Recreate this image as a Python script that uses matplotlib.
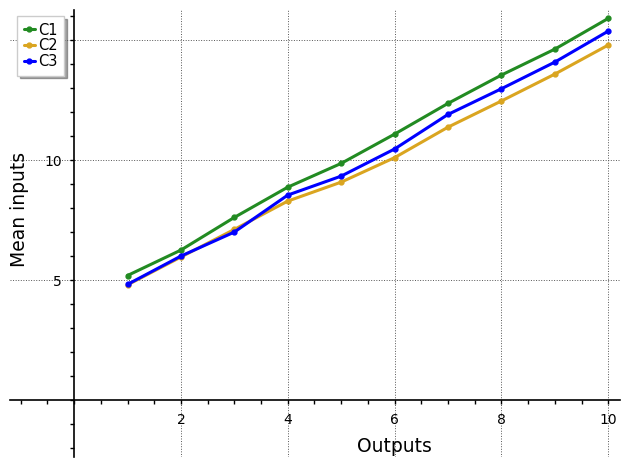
import matplotlib
matplotlib.use("Agg")
import matplotlib.pyplot as plt
from matplotlib.ticker import MultipleLocator

outputs = [1, 2, 3, 4, 5, 6, 7, 8, 9, 10]
c1 = [5.19, 6.25, 7.61, 8.87, 9.86, 11.08, 12.36, 13.54, 14.62, 15.90]
c2 = [4.80, 5.96, 7.11, 8.29, 9.08, 10.10, 11.37, 12.46, 13.58, 14.79]
c3 = [4.82, 6.00, 7.00, 8.54, 9.33, 10.46, 11.90, 12.97, 14.08, 15.37]
series = {"C1": c1, "C2": c2, "C3": c3}
colors = {"C1": "#228B22", "C2": "#DAA520", "C3": "#0000FF"}
x_ticks = [2, 4, 6, 8, 10]
y_ticks = [5, 10, 15]

fig = plt.figure(figsize=(6.3, 4.68), dpi=100)
ax = fig.add_axes([10/630, 11/468, 610/630, 447/468])

for name, vals in series.items():
    ax.plot(outputs, vals, color=colors[name], lw=2.2, marker="o", ms=3.5,
            solid_capstyle="round", label=name)

ax.set_xlim(-1.2, 10.22)
ax.set_ylim(-2.37, 16.25)

for s in ["top", "right"]:
    ax.spines[s].set_visible(False)
ax.spines["left"].set_position(("data", 0))
ax.spines["bottom"].set_position(("data", 0))
ax.spines["left"].set_linewidth(1.2)
ax.spines["bottom"].set_linewidth(1.2)

ax.xaxis.set_minor_locator(MultipleLocator(0.5))
ax.yaxis.set_minor_locator(MultipleLocator(1))
ax.set_xticks(x_ticks)
ax.set_xticklabels([str(t) for t in x_ticks])
ax.set_yticks(y_ticks)
ax.set_yticklabels([str(t) for t in y_ticks])
ax.tick_params(which="both", direction="out", length=3, width=1, labelsize=10, pad=6)

ax.grid(True, which="major", linestyle=":", color="#555555", linewidth=0.7)
ax.set_axisbelow(True)

fig.text(394/630, 1 - 447/468, "Outputs", fontsize=13.5, ha="center", va="center")
fig.text(20/630, 1 - 209/468, "Mean inputs", rotation=90, fontsize=13.5,
         ha="center", va="center")

leg = ax.legend(loc="upper left", bbox_to_anchor=(7/610, 1.0 - 6/447), fontsize=10.5,
                shadow=True, fancybox=False, handlelength=0.75, handletextpad=0.25,
                borderpad=0.45, labelspacing=0.05, framealpha=1, borderaxespad=0)
leg.get_frame().set_edgecolor("#cccccc")

fig.savefig("out.png", dpi=100)
